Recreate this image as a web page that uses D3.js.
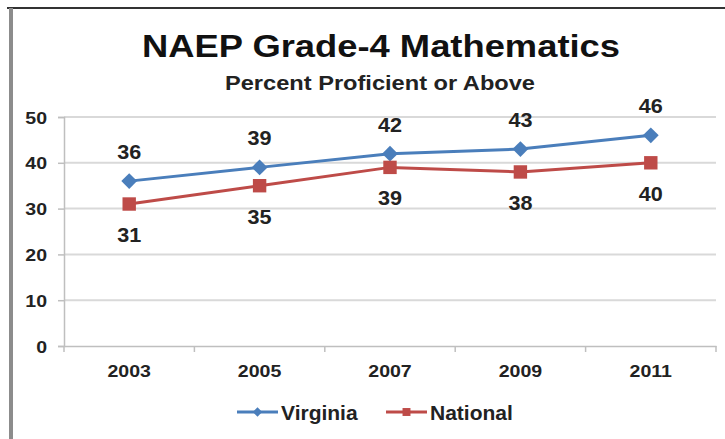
<!DOCTYPE html>
<html>
<head>
<meta charset="utf-8">
<script src="https://cdn.jsdelivr.net/npm/d3@7"></script>
<style>
  body { margin: 0; background: #fff; }
  svg { display: block; font-family: "Liberation Sans", Arial, sans-serif; }
</style>
</head>
<body>
<div id="chart"></div>
<script>
const years = ["2003", "2005", "2007", "2009", "2011"];
const virginia = [36, 39, 42, 43, 46];
const national = [31, 35, 39, 38, 40];
const yTicks = [0, 10, 20, 30, 40, 50];

const width = 725, height = 439;
const margin = { top: 117, right: 9, bottom: 93, left: 64 };
const stretch = 1.15; // the picture is a bit wider than tall

const svg = d3.select("#chart").append("svg")
  .attr("width", width)
  .attr("height", height);

// frame of the pasted picture
svg.append("line").attr("x1", 7).attr("x2", width).attr("y1", 8).attr("y2", 8)
  .attr("stroke", "#333").attr("stroke-width", 2);
svg.append("line").attr("x1", 11).attr("x2", 11).attr("y1", 8).attr("y2", height)
  .attr("stroke", "#8c8c8c").attr("stroke-width", 4);

// titles
svg.append("text").attr("x", 381).attr("y", 57)
  .attr("text-anchor", "middle").attr("font-size", 32).attr("font-weight", "bold").attr("fill", "#111")
  .attr("textLength", 478).attr("lengthAdjust", "spacingAndGlyphs")
  .text("NAEP Grade-4 Mathematics");
svg.append("text").attr("x", 380).attr("y", 90)
  .attr("text-anchor", "middle").attr("font-size", 20).attr("font-weight", "bold").attr("fill", "#222")
  .attr("textLength", 310).attr("lengthAdjust", "spacingAndGlyphs")
  .text("Percent Proficient or Above");

const x = d3.scaleBand().domain(years).range([margin.left, width - margin.right]);
const y = d3.scaleLinear().domain([0, 50]).range([height - margin.bottom, margin.top]);
const cx = d => x(d) + x.bandwidth() / 2;

// gridlines
svg.append("g").selectAll("line").data(yTicks.slice(1)).join("line")
  .attr("x1", margin.left).attr("x2", width - margin.right)
  .attr("y1", d => y(d)).attr("y2", d => y(d))
  .attr("stroke", "#d9d9d9").attr("stroke-width", 2);

// y axis
const yAxis = svg.append("g")
  .attr("transform", "translate(" + margin.left + ",0)")
  .call(d3.axisLeft(y).tickValues(yTicks).tickSize(6));
yAxis.selectAll("line, path").attr("stroke", "#bfbfbf").attr("stroke-width", 1.5);
yAxis.selectAll(".tick text")
  .attr("x", null).attr("dy", null)
  .attr("transform", "translate(-17,6) scale(" + stretch + ",1)")
  .attr("font-size", 17).attr("font-weight", "bold").attr("fill", "#222")
  .attr("font-family", "Liberation Sans, Arial, sans-serif");

// x axis
const xAxis = svg.append("g")
  .attr("transform", "translate(0," + y(0) + ")")
  .call(d3.axisBottom(x).tickSize(0));
xAxis.select("path").attr("stroke", "#bfbfbf").attr("stroke-width", 1.5);
xAxis.selectAll(".tick text")
  .attr("y", null).attr("dy", null)
  .attr("transform", "translate(0,31) scale(" + stretch + ",1)")
  .attr("font-size", 17).attr("font-weight", "bold").attr("fill", "#222")
  .attr("font-family", "Liberation Sans, Arial, sans-serif");
// tick marks between categories
xAxis.append("g").selectAll("line").data(years).join("line")
  .attr("x1", d => x(d) + x.bandwidth()).attr("x2", d => x(d) + x.bandwidth())
  .attr("y1", 0).attr("y2", 6)
  .attr("stroke", "#bfbfbf").attr("stroke-width", 1.5);
xAxis.append("line").attr("x1", margin.left).attr("x2", margin.left).attr("y1", 0).attr("y2", 6)
  .attr("stroke", "#bfbfbf").attr("stroke-width", 1.5);

const line = d3.line().x((d, i) => cx(years[i])).y(d => y(d));

const series = [
  { name: "Virginia", values: virginia, color: "#4a7ebb", symbol: d3.symbolSquare, size: 125, rotate: 45, labelDy: -22 },
  { name: "National", values: national, color: "#be4b48", symbol: d3.symbolSquare, size: 180, rotate: 0, labelDy: 38 }
];

series.forEach(s => {
  svg.append("path").datum(s.values)
    .attr("fill", "none").attr("stroke", s.color).attr("stroke-width", 3)
    .attr("d", line);
  svg.append("g").selectAll("path").data(s.values).join("path")
    .attr("transform", (d, i) => "translate(" + cx(years[i]) + "," + y(d) + ") rotate(" + s.rotate + ")")
    .attr("d", d3.symbol().type(s.symbol).size(s.size))
    .attr("fill", s.color);
  svg.append("g").selectAll("text").data(s.values).join("text")
    .attr("transform", (d, i) => "translate(" + cx(years[i]) + "," + (y(d) + s.labelDy) + ") scale(1.08,1)")
    .attr("text-anchor", "middle").attr("font-size", 20).attr("font-weight", "bold").attr("fill", "#222")
    .text(d => d);
});

// legend
const legend = svg.append("g").attr("transform", "translate(0,412)");
const legendX = [237, 386];
series.forEach((s, i) => {
  const g = legend.append("g").attr("transform", "translate(" + legendX[i] + ",0)");
  g.append("line").attr("x1", 0).attr("x2", 41).attr("y1", 0).attr("y2", 0)
    .attr("stroke", s.color).attr("stroke-width", 3);
  g.append("path").attr("transform", "translate(20.5,0) rotate(" + s.rotate + ")")
    .attr("d", d3.symbol().type(s.symbol).size(s.size * 0.35))
    .attr("fill", s.color);
  g.append("text").attr("x", 44).attr("y", 7.5)
    .attr("font-size", 21).attr("font-weight", "bold").attr("fill", "#222")
    .text(s.name);
});
</script>
</body>
</html>
